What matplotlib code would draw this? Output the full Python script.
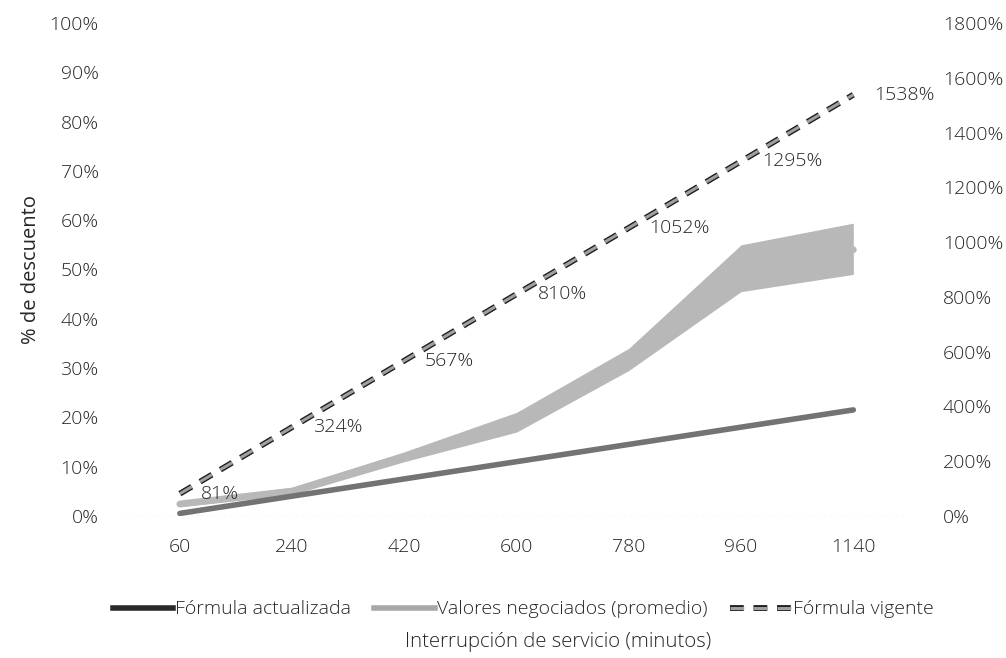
import matplotlib.pyplot as plt
import matplotlib.patheffects as pe
from matplotlib.lines import Line2D

plt.rcParams['font.family'] = ['Open Sans', 'DejaVu Sans']
plt.rcParams['font.weight'] = 'light'

# datos
minutos = ['60', '240', '420', '600', '780', '960', '1140']
formula_actualizada = [0.5, 4.0, 7.5, 11.0, 14.5, 18.0, 21.5]
negociados_prom = [2.4, 5.0, 12.0, 19.0, 31.7, 50.0, 54.0]
negociados_min = [1.9, 4.3, 11.0, 17.0, 29.5, 45.5, 49.0]
negociados_max = [3.0, 5.8, 13.0, 21.0, 34.0, 55.0, 59.4]
formula_vigente = [81, 324, 567, 810, 1052, 1295, 1538]

x = list(range(len(minutos)))
txt = '#262626'
fs = 14

fig = plt.figure(figsize=(10.06, 6.58), dpi=100)
ax = fig.add_axes([0.123, 0.216, 0.781, 0.749])
ax2 = ax.twinx()

# valores negociados (rango + promedio)
ax.fill_between(x, negociados_min, negociados_max, color='#b8b8b8', lw=0, zorder=2)
ax.plot(x, negociados_prom, color='#b8b8b8', lw=5, solid_capstyle='round', zorder=2)

# formula actualizada
ax.plot(x, formula_actualizada, color='#737373', lw=4, solid_capstyle='round', zorder=3)

ax.axhline(0, color='#c8c8c8', lw=1, ls=(0, (1, 3)), zorder=1)

ax.set_xlim(-0.5, len(minutos) - 0.5)
ax.set_ylim(0, 100)
ax.set_yticks(range(0, 101, 10))
ax.set_yticklabels([f'{v}%' for v in range(0, 101, 10)])
ax.set_xticks(x)
ax.set_xticklabels(minutos)
ax.tick_params(axis='both', length=0, labelsize=fs, colors=txt)
ax.tick_params(axis='y', pad=18)
ax.tick_params(axis='x', pad=16)
ax.set_ylabel('% de descuento', fontsize=14.5, color=txt)
ax.yaxis.set_label_coords(-0.105, 0.5)

# formula vigente (eje secundario)
ax2.plot(x, formula_vigente, color='#a0a0a0', lw=2.2, ls=(0, (4.5, 3.2)), zorder=4,
         path_effects=[pe.Stroke(linewidth=4.2, foreground='#1e1e1e'), pe.Normal()])
for xi, v in zip(x, formula_vigente):
    ax2.annotate(f'{v}%', (xi, v), xytext=(15, 0), textcoords='offset points',
                 ha='left', va='center', fontsize=fs, color=txt)
ax2.set_ylim(0, 1800)
ax2.set_yticks(range(0, 1801, 200))
ax2.set_yticklabels([f'{v}%' for v in range(0, 1801, 200)])
ax2.tick_params(axis='y', length=0, labelsize=fs, colors=txt, pad=24)

for a in (ax, ax2):
    for s in a.spines.values():
        s.set_visible(False)

handles = [
    Line2D([], [], color='#2a2a2a', lw=4),
    Line2D([], [], color='#a8a8a8', lw=4),
    Line2D([], [], color='#a0a0a0', lw=2.2, ls=(0, (4.5, 3.2)),
           path_effects=[pe.Stroke(linewidth=4.2, foreground='#1e1e1e'), pe.Normal()]),
]
labels = ['Fórmula actualizada', 'Valores negociados (promedio)', 'Fórmula vigente']
fig.legend(handles, labels, loc='center', bbox_to_anchor=(0.52, 0.074), ncol=3,
           frameon=False, fontsize=14, handlelength=3.1, handletextpad=0.1,
           columnspacing=1.2, labelcolor=txt)
fig.text(0.555, 0.024, 'Interrupción de servicio (minutos)', ha='center', va='center',
         fontsize=14.7, color=txt)

fig.savefig('out.png', dpi=100)
